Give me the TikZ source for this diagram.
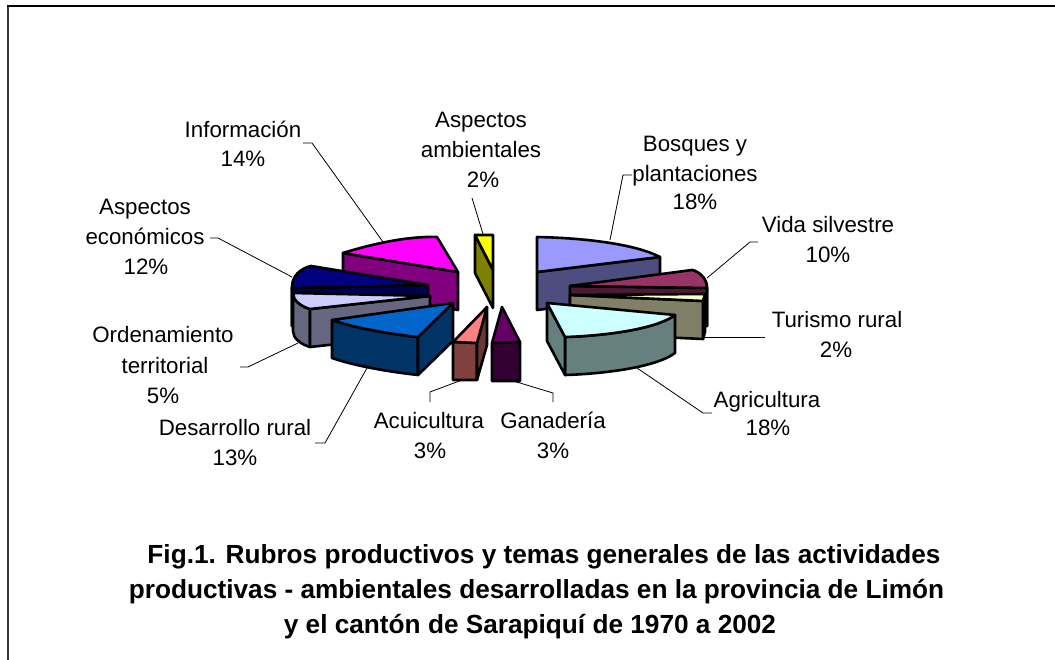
\documentclass[tikz,border=0pt]{standalone}
\usepackage{fontspec}
\setmainfont{Liberation Sans}
\definecolor{magTop}{HTML}{FF00FF}
\definecolor{magSide}{HTML}{800080}
\definecolor{yelTop}{HTML}{FFFF00}
\definecolor{yelSide}{HTML}{808000}
\definecolor{bosTop}{HTML}{9999FF}
\definecolor{bosSide}{HTML}{4D4D80}
\definecolor{vidTop}{HTML}{993366}
\definecolor{vidSide}{HTML}{4D1A33}
\definecolor{ecoTop}{HTML}{000080}
\definecolor{ecoSide}{HTML}{000050}
\definecolor{turTop}{HTML}{FFFFCC}
\definecolor{turSide}{HTML}{808066}
\definecolor{ordTop}{HTML}{CCCCFF}
\definecolor{ordSide}{HTML}{666680}
\definecolor{agrTop}{HTML}{CCFFFF}
\definecolor{agrSide}{HTML}{668080}
\definecolor{desTop}{HTML}{0066CC}
\definecolor{desSide}{HTML}{003366}
\definecolor{acuTop}{HTML}{FF8080}
\definecolor{acuSide}{HTML}{804040}
\definecolor{ganTop}{HTML}{660066}
\definecolor{ganSide}{HTML}{330033}
\definecolor{frameGray}{HTML}{333333}
\tikzset{
  face/.style={draw=black, line width=2.6pt, line join=round},
  darkface/.style={face, fill=black!90},
  lbl/.style={font=\fontsize{22.3}{27}\selectfont, inner sep=0pt, anchor=base},
  ttl/.style={font=\fontsize{26.2}{30}\selectfont\bfseries, inner sep=0pt, anchor=base},
  leader/.style={draw=black, line width=0.8pt}
}
\begin{document}
\begin{tikzpicture}[x=1pt,y=-1pt]
\useasboundingbox (0,0) rectangle (1055,660);
% frame
\draw[line width=2pt, frameGray] (8,660) -- (8,6.5);
\draw[line width=2pt, black] (7,6.5) -- (1055,6.5);

% 1 Informacion
\filldraw[face,fill=magSide] (343,253) -- (458,272) -- (458,310) -- (343,291) -- cycle;
\filldraw[face,fill=magTop] (343,253) .. controls (375,243) and (410,236) .. (437,237) -- (458,272) -- cycle;
% 2 Aspectos ambientales
\filldraw[face,fill=yelSide] (475,235) -- (493,270) -- (493,308) -- (475,273) -- cycle;
\filldraw[face,fill=yelTop] (475,235) -- (493,235) -- (493,270) -- cycle;
% 3 Bosques
\filldraw[face,fill=bosSide] (537,272) -- (660,257) -- (660,295) -- (537,310) -- cycle;
\filldraw[face,fill=bosTop] (537,272) -- (537,237) .. controls (585,238) and (635,244) .. (660,257) -- cycle;
% 4 Vida silvestre
\filldraw[darkface] (692,270) .. controls (700,272) and (707,279) .. (707,288) -- (707,326) .. controls (707,317) and (700,310) .. (692,308) -- cycle;
\filldraw[face,fill=vidSide] (570,286) -- (707,288) -- (707,326) -- (570,324) -- cycle;
\filldraw[face,fill=vidTop] (570,286) -- (692,270) .. controls (700,272) and (707,279) .. (707,288) -- cycle;
% 5 Aspectos economicos
\filldraw[darkface] (311,266) .. controls (300,269) and (292,276) .. (292,288) -- (292,326) .. controls (292,314) and (300,307) .. (311,304) -- cycle;
\filldraw[face,fill=ecoSide] (292,288) -- (428,285) -- (428,323) -- (292,326) -- cycle;
\filldraw[face,fill=ecoTop] (428,285) -- (311,266) .. controls (300,269) and (292,276) .. (292,288) -- cycle;
% 6 Turismo rural
\filldraw[darkface] (705,294) -- (703,301) -- (703,339) -- (705,332) -- cycle;
\filldraw[face,fill=turSide] (570,295) -- (703,301) -- (703,339) -- (570,333) -- cycle;
\filldraw[face,fill=turTop] (570,295) -- (705,294) -- (703,301) -- cycle;
% 7 Ordenamiento territorial
\filldraw[face,fill=ordSide] (293,293) .. controls (293,300) and (300,306) .. (310,309) -- (310,347) .. controls (300,344) and (293,338) .. (293,331) -- cycle;
\filldraw[face,fill=ordSide] (310,309) -- (430,296) -- (430,334) -- (310,347) -- cycle;
\filldraw[face,fill=ordTop] (430,296) -- (293,293) .. controls (293,300) and (300,306) .. (310,309) -- cycle;
% 8 Agricultura
\filldraw[face,fill=agrSide] (565,337) .. controls (600,336) and (655,330) .. (675,315) -- (675,353) .. controls (655,368) and (600,374) .. (565,375) -- cycle;
\filldraw[face,fill=agrSide] (547,303) -- (565,337) -- (565,375) -- (547,341) -- cycle;
\filldraw[face,fill=agrTop] (547,303) -- (675,315) .. controls (655,330) and (600,336) .. (565,337) -- cycle;
% 9 Desarrollo rural
\filldraw[face,fill=desSide] (332,320) .. controls (355,328) and (390,334) .. (418,337) -- (418,375) .. controls (390,372) and (355,366) .. (332,358) -- cycle;
\filldraw[face,fill=desSide] (418,337) -- (453,303) -- (453,341) -- (418,375) -- cycle;
\filldraw[face,fill=desTop] (453,303) -- (332,320) .. controls (355,328) and (390,334) .. (418,337) -- cycle;
% 10 Acuicultura
\filldraw[face,fill=acuSide] (453,342) -- (477,343) -- (477,380) -- (453,380) -- cycle;
\filldraw[face,fill=acuSide!85!black] (477,343) -- (487,307) -- (487,345) -- (477,380) -- cycle;
\filldraw[face,fill=acuTop] (487,307) -- (453,342) -- (477,343) -- cycle;
% 11 Ganaderia
\filldraw[face,fill=ganSide] (492,343) -- (520,342) -- (520,381) -- (492,381) -- cycle;
\filldraw[face,fill=ganTop] (502,307) -- (492,343) -- (520,342) -- cycle;

% leader line end points
\coordinate (infoL) at (303,143);  \coordinate (infoS) at (383,242);
\coordinate (ecoL) at (210,238);   \coordinate (ecoS) at (292,277);
\coordinate (ambL) at (472,198);   \coordinate (ambS) at (483,234);
\coordinate (bosL) at (632,175);   \coordinate (bosS) at (610,240);
\coordinate (vidL) at (758,242);   \coordinate (vidS) at (707,278);
\coordinate (turL) at (765,337);   \coordinate (turS) at (703,337);
\coordinate (agrL) at (712,413);   \coordinate (agrS) at (637,368);
\coordinate (ganL) at (553,402);   \coordinate (ganS) at (510,380);
\coordinate (acuL) at (430,402);   \coordinate (acuS) at (462,380);
\coordinate (desL) at (315,443);   \coordinate (desS) at (367,368);
\coordinate (ordL) at (240,367);   \coordinate (ordS) at (298,343);

\draw[leader] (infoL) -- ++(9,0) -- (infoS);
\draw[leader] (ecoL) -- ++(8,0) -- (ecoS);
\draw[leader] (ambL) -- (ambS);
\draw[leader] (bosL) -- ++(-9,0) -- (bosS);
\draw[leader] (vidL) -- ++(-8,0) -- (vidS);
\draw[leader] (turL) -- (turS);
\draw[leader] (agrL) -- ++(-9,0) -- (agrS);
\draw[leader] (ganL) -- ++(0,-9) -- (ganS);
\draw[leader] (acuL) -- ++(0,-10) -- (acuS);
\draw[leader] (desL) -- ++(10,0) -- (desS);
\draw[leader] (ordL) -- ++(8,0) -- (ordS);

% labels
\node[lbl] (info1) at (243,138) {Información};
\node[lbl] (info2) at (243,167) {14\%};
\node[lbl] (eco1) at (145,215) {Aspectos};
\node[lbl] (eco2) at (145,245) {económicos};
\node[lbl] (eco3) at (146,275) {12\%};
\node[lbl] (amb1) at (481,128) {Aspectos};
\node[lbl] (amb2) at (481,158) {ambientales};
\node[lbl] (amb3) at (483,188) {2\%};
\node[lbl] (bos1) at (695,152) {Bosques y};
\node[lbl] (bos2) at (695,182) {plantaciones};
\node[lbl] (bos3) at (695,210) {18\%};
\node[lbl] (vid1) at (828,233) {Vida silvestre};
\node[lbl] (vid2) at (828,263) {10\%};
\node[lbl] (tur1) at (837,328) {Turismo rural};
\node[lbl] (tur2) at (836,358) {2\%};
\node[lbl] (agr1) at (767,407) {Agricultura};
\node[lbl] (agr2) at (768,435) {18\%};
\node[lbl] (acu1) at (429,428) {Acuicultura};
\node[lbl] (acu2) at (430,458) {3\%};
\node[lbl] (gan1) at (553,428) {Ganadería};
\node[lbl] (gan2) at (553,458) {3\%};
\node[lbl] (ord1) at (163,343) {Ordenamiento};
\node[lbl] (ord2) at (165,373) {territorial};
\node[lbl] (ord3) at (163,403) {5\%};
\node[lbl] (des1) at (235,435) {Desarrollo rural};
\node[lbl] (des2) at (235,465) {13\%};

% title
\node[ttl] (t1) at (544,563) {Fig.1. Rubros productivos y temas generales de las actividades};
\node[ttl] (t2) at (536.5,598) {productivas - ambientales desarrolladas en la provincia de Limón};
\node[ttl] (t3) at (530,633) {y el cantón de Sarapiquí de 1970 a 2002};
\end{tikzpicture}
\end{document}
